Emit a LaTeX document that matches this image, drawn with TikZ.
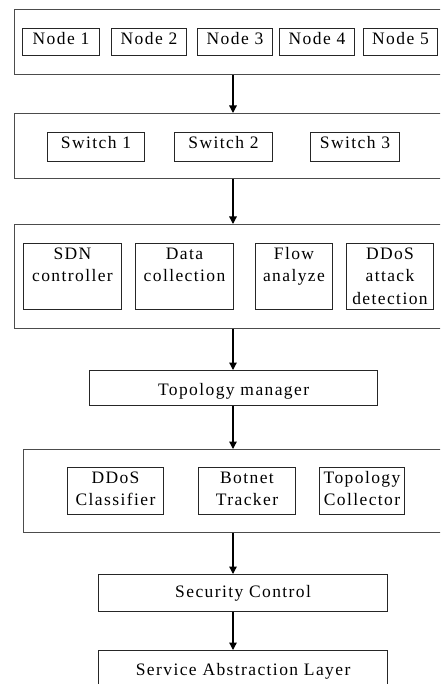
\documentclass[tikz,border=0pt]{standalone}
\usepackage{fontspec}
\setmainfont{Liberation Serif}[LetterSpace=8]
\usetikzlibrary{arrows.meta}
\newcommand{\firstln}{\rule{0pt}{13pt}}
\begin{document}
\begin{tikzpicture}[x=1pt,y=-1pt,
  outer/.style={draw=black!70, line width=1.3pt, inner sep=0pt, anchor=north west},
  box/.style={draw=black!85, line width=1pt, inner sep=0pt, anchor=north west},
  lbl/.style={font=\fontsize{17.5}{22.5}\selectfont, align=center, inner sep=0pt, anchor=north},
  arr/.style={draw=black, line width=1.3pt, -{Triangle[width=7.5pt,length=7.5pt]}}]
\useasboundingbox (0,0) rectangle (440,684);
\clip (0,0) rectangle (440,684);
\fill[white] (0,0) rectangle (440,684);
\coordinate (ax) at (233,0);

% layer 1
\node[outer, minimum width=470pt, minimum height=65pt] (L1) at (14,9) {};
\node[box, minimum width=77pt, minimum height=27pt] (n1) at (22,28) {};
\node[box, minimum width=75pt, minimum height=27pt] (n2) at (111,28) {};
\node[box, minimum width=75pt, minimum height=27pt] (n3) at (197,28) {};
\node[box, minimum width=75pt, minimum height=27pt] (n4) at (279,28) {};
\node[box, minimum width=74pt, minimum height=27pt] (n5) at (363,28) {};
\node[lbl] (n1t) at ([yshift=-3pt]n1.north) {\firstln Node 1};
\node[lbl] (n2t) at ([yshift=-3pt]n2.north) {\firstln Node 2};
\node[lbl] (n3t) at ([yshift=-3pt]n3.north) {\firstln Node 3};
\node[lbl] (n4t) at ([yshift=-3pt]n4.north) {\firstln Node 4};
\node[lbl] (n5t) at ([yshift=-3pt]n5.north) {\firstln Node 5};

% layer 2
\node[outer, minimum width=470pt, minimum height=65pt] (L2) at (14,113) {};
\node[box, minimum width=97pt, minimum height=29pt] (s1) at (47,132) {};
\node[box, minimum width=98pt, minimum height=29pt] (s2) at (174,132) {};
\node[box, minimum width=89pt, minimum height=29pt] (s3) at (310,132) {};
\node[lbl] (s1t) at ([yshift=-3pt]s1.north) {\firstln Switch 1};
\node[lbl] (s2t) at ([yshift=-3pt]s2.north) {\firstln Switch 2};
\node[lbl] (s3t) at ([yshift=-3pt]s3.north) {\firstln Switch 3};

% layer 3
\node[outer, minimum width=470pt, minimum height=104pt] (L3) at (14,224) {};
\node[box, minimum width=98pt, minimum height=66pt] (c1) at (23,243) {};
\node[box, minimum width=98pt, minimum height=66pt] (c2) at (135,243) {};
\node[box, minimum width=77pt, minimum height=66pt] (c3) at (255,243) {};
\node[box, minimum width=87pt, minimum height=66pt] (c4) at (346,243) {};
\node[lbl] (c1t) at ([yshift=-3pt]c1.north) {\firstln SDN\\controller};
\node[lbl] (c2t) at ([yshift=-3pt]c2.north) {\firstln Data\\collection};
\node[lbl] (c3t) at ([yshift=-3pt]c3.north) {\firstln Flow\\analyze};
\node[lbl] (c4t) at ([yshift=-3pt]c4.north) {\firstln DDoS\\attack\\detection};

% topology manager
\node[box, line width=1.2pt, minimum width=288pt, minimum height=35pt] (tm) at (89,370) {};
\node[lbl] (tmt) at ([yshift=-12pt]tm.north) {\firstln Topology manager};

% layer 5
\node[outer, minimum width=460pt, minimum height=83pt] (L5) at (23,449) {};
\node[box, minimum width=96pt, minimum height=47pt] (d1) at (67,467) {};
\node[box, minimum width=97pt, minimum height=47pt] (d2) at (198,467) {};
\node[box, minimum width=85pt, minimum height=47pt] (d3) at (319,467) {};
\node[lbl] (d1t) at ([yshift=-3pt]d1.north) {\firstln DDoS\\Classifier};
\node[lbl] (d2t) at ([yshift=-3pt]d2.north) {\firstln Botnet\\Tracker};
\node[lbl] (d3t) at ([yshift=-3pt]d3.north) {\firstln Topology\\Collector};

% security control
\node[box, line width=1.2pt, minimum width=289pt, minimum height=37pt] (sc) at (98,574) {};
\node[lbl] (sct) at ([yshift=-10pt]sc.north) {\firstln Security Control};

% service abstraction layer
\node[box, line width=1.2pt, minimum width=289pt, minimum height=60pt] (sal) at (98,650) {};
\node[lbl] (salt) at ([yshift=-12pt]sal.north) {\firstln Service Abstraction Layer};

% arrows
\draw[arr] (L1.south -| ax) -- (L2.north -| ax);
\draw[arr] (L2.south -| ax) -- (L3.north -| ax);
\draw[arr] (L3.south -| ax) -- (tm.north -| ax);
\draw[arr] (tm.south -| ax) -- (L5.north -| ax);
\draw[arr] (L5.south -| ax) -- (sc.north -| ax);
\draw[arr] (sc.south -| ax) -- (sal.north -| ax);
\end{tikzpicture}
\end{document}
